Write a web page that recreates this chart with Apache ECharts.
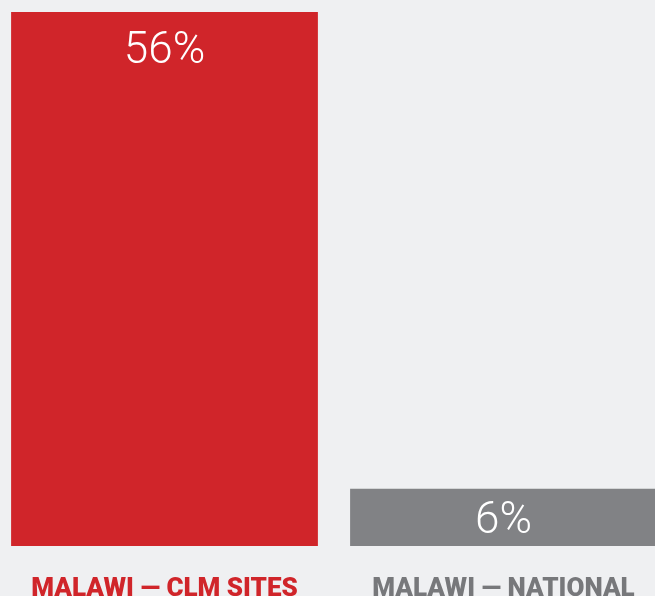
<!DOCTYPE html>
<html><head><meta charset="utf-8">
<script src="https://cdn.jsdelivr.net/npm/echarts@6/dist/echarts.min.js"></script>
<style>html,body{margin:0;padding:0;background:#eff0f2}#c{width:655px;height:596px}</style>
</head><body><div id="c"></div>
<script>
const categories = ['MALAWI — CLM SITES', 'MALAWI — NATIONAL'];
const values = [56, 6];
const barColors = ['#d0252a', '#818285'];
const labelColors = ['#d0252a', '#77787b'];
const labelDistances = [18, 11];

const chart = echarts.init(document.getElementById('c'));
chart.setOption({
  backgroundColor: '#eff0f2',
  animation: false,
  grid: { left: -5, width: 678, top: 12, bottom: 50, containLabel: false, outerBoundsMode: 'none' },
  xAxis: {
    type: 'category', data: categories,
    axisLine: { show: false }, axisTick: { show: false },
    axisLabel: {
      margin: 30, fontSize: 26, fontWeight: 900, fontFamily: 'Roboto',
      color: (v, i) => labelColors[i], interval: 0
    }
  },
  yAxis: { type: 'value', min: 0, max: 56, show: false, splitLine: { show: false } },
  series: [{
    type: 'bar', barWidth: '90.5%',
    data: values.map((v, i) => ({
      value: v,
      itemStyle: { color: barColors[i] },
      label: { distance: labelDistances[i] }
    })),
    label: {
      show: true, position: 'insideTop',
      formatter: p => p.value + '%', color: '#ffffff',
      fontSize: 44, fontWeight: 300, fontFamily: 'Roboto'
    }
  }]
});
</script></body></html>
